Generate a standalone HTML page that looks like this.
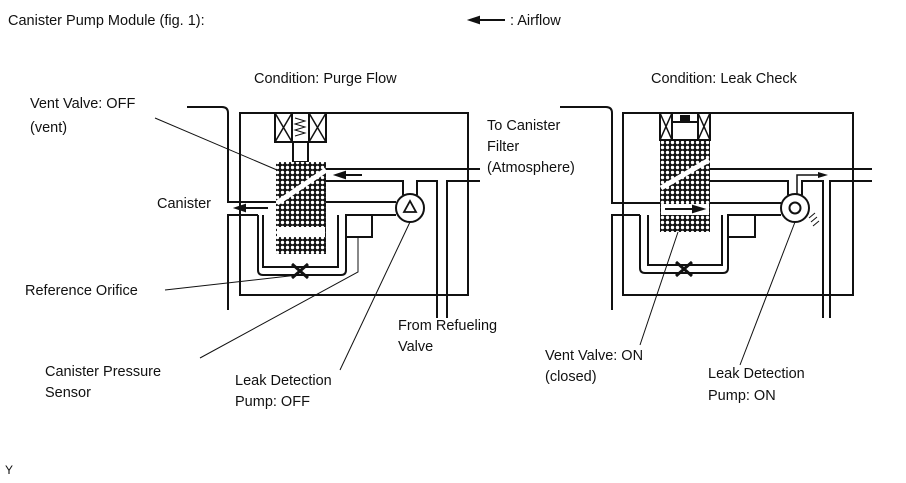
<!DOCTYPE html>
<html><head><meta charset="utf-8"><style>
html,body{margin:0;padding:0;background:#fff;}
svg{display:block;}
text{font-family:"Liberation Sans",sans-serif;font-size:14.5px;fill:#111;}
</style></head><body>
<svg width="906" height="483" viewBox="0 0 906 483" xmlns="http://www.w3.org/2000/svg">
<defs>
<pattern id="h" width="5" height="5" patternUnits="userSpaceOnUse">
<rect width="5" height="5" fill="#111"/>
<circle cx="2.5" cy="2.5" r="1.7" fill="#fff"/>
</pattern>
</defs>
<g stroke="#111" stroke-width="2" fill="none">
<line x1="475" y1="20" x2="505" y2="20"/>
<path d="M470 20 l9 -3 v6z" fill="#111"/>

<path d="M187 107 H222 q6 0 6 6 V202 H276"/>
<path d="M228 310 V215 H258"/>
<rect x="240" y="113" width="228" height="182"/>
<rect x="275" y="113" width="51" height="29" fill="#fff"/>
<line x1="292" y1="113" x2="292" y2="142"/><line x1="309" y1="113" x2="309" y2="142"/>
<path d="M275 113 L292 142 M292 113 L275 142 M309 113 L326 142 M326 113 L309 142" stroke-width="1.5"/>
<path d="M295 118 l10 3 l-10 3 l10 3 l-10 3 l10 3 l-10 3" stroke-width="1"/>
<rect x="293" y="142" width="15" height="20" fill="#fff"/>
<rect x="276" y="162" width="50" height="92" fill="url(#h)" stroke="none"/>
<rect x="277" y="227" width="48" height="10" fill="#fff" stroke="none"/>
<path d="M277 203 L326 170" stroke="#fff" stroke-width="5"/>
<path d="M326 169 H480"/>
<path d="M326 181 H403 V195"/>
<path d="M417 195 V181 H437 V318"/>
<path d="M447 318 V181 H480"/>
<path d="M326 202 H396"/>
<path d="M346 215 H396"/>
<circle cx="410" cy="208" r="14" fill="#fff"/>
<path d="M410 201 l-6 11 h12z" stroke-width="1.8"/>
<path d="M258 215 V270 q0 5 5 5 H341 q5 0 5 -5 V215"/>
<path d="M263 215 V267 H338 V215"/>
<rect x="346" y="215" width="26" height="22" fill="#fff"/>
<path d="M292 264 l16 14 M308 264 l-16 14" stroke-width="3"/>
<line x1="344" y1="175" x2="362" y2="175"/><path d="M336 175 l9 -3 v6z" fill="#111"/>
<line x1="244" y1="208" x2="268" y2="208"/><path d="M236 208 l9 -3 v6z" fill="#111"/>
</g>
<g stroke="#111" stroke-width="2" fill="none">
<path d="M560 107 H606 q6 0 6 6 V203 H660"/>
<path d="M612 310 V215 H640"/>
<rect x="623" y="113" width="230" height="182"/>
<rect x="660" y="140" width="50" height="92" fill="url(#h)" stroke="none"/>
<rect x="660" y="113" width="50" height="27" fill="#fff"/>
<path d="M660 113 L672 140 M672 113 L660 140 M698 113 L710 140 M710 113 L698 140" stroke-width="1.5"/>
<line x1="672" y1="113" x2="672" y2="140"/><line x1="698" y1="113" x2="698" y2="140"/>
<rect x="672" y="122" width="26" height="18" fill="#fff"/>
<rect x="680" y="115" width="10" height="6" fill="#111" stroke="none"/>
<path d="M661 188 L709 160" stroke="#fff" stroke-width="5"/>
<rect x="661" y="204" width="48" height="11" fill="#fff" stroke="none"/>
<line x1="665" y1="209" x2="693" y2="209"/><path d="M703 209 l-10 -3 v6z" fill="#111"/>
<path d="M710 169 H872"/>
<path d="M710 181 H788 V195"/>
<path d="M802 195 V181 H823 V318"/>
<path d="M830 318 V181 H872"/>
<path d="M710 203 H781"/>
<path d="M728 215 H781"/>
<path d="M640 215 V268 q0 5 5 5 H723 q5 0 5 -5 V215"/>
<path d="M648 215 V265 H722 V215"/>
<rect x="728" y="215" width="27" height="22" fill="#fff"/>
<path d="M676 262 l16 14 M692 262 l-16 14" stroke-width="3"/>
<circle cx="795" cy="208" r="14" fill="#fff"/>
<circle cx="795" cy="208" r="5.5"/>
<path d="M797 194 V175 H818" stroke-width="1.5"/>
<path d="M828 175 l-10 -3 v6z" fill="#111" stroke="none"/>
<path d="M809 218 l6 -5 M811 222 l6 -5 M813 226 l6 -5" stroke-width="1"/>
</g>
<g stroke="#111" stroke-width="1" fill="none">
<line x1="155" y1="118" x2="277" y2="170"/>
<line x1="165" y1="290" x2="298" y2="275"/>
<path d="M358 237 V272 L200 358"/>
<line x1="340" y1="370" x2="410" y2="222"/>
<line x1="640" y1="345" x2="678" y2="232"/>
<line x1="740" y1="365" x2="795" y2="222"/>
</g>
<text x="8" y="25">Canister Pump Module (fig. 1):</text>
<text x="510" y="25">: Airflow</text>
<text x="254" y="83">Condition: Purge Flow</text>
<text x="651" y="83">Condition: Leak Check</text>
<text x="30" y="108">Vent Valve: OFF</text>
<text x="30" y="132">(vent)</text>
<text x="487" y="130">To Canister</text>
<text x="487" y="151">Filter</text>
<text x="487" y="172">(Atmosphere)</text>
<text x="157" y="208">Canister</text>
<text x="25" y="295">Reference Orifice</text>
<text x="398" y="330">From Refueling</text>
<text x="398" y="351">Valve</text>
<text x="45" y="376">Canister Pressure</text>
<text x="45" y="397">Sensor</text>
<text x="235" y="385">Leak Detection</text>
<text x="235" y="406">Pump: OFF</text>
<text x="545" y="360">Vent Valve: ON</text>
<text x="545" y="381">(closed)</text>
<text x="708" y="378">Leak Detection</text>
<text x="708" y="400">Pump: ON</text>
<text x="5" y="474" style="font-size:12px">Y</text>
</svg>
</body></html>
